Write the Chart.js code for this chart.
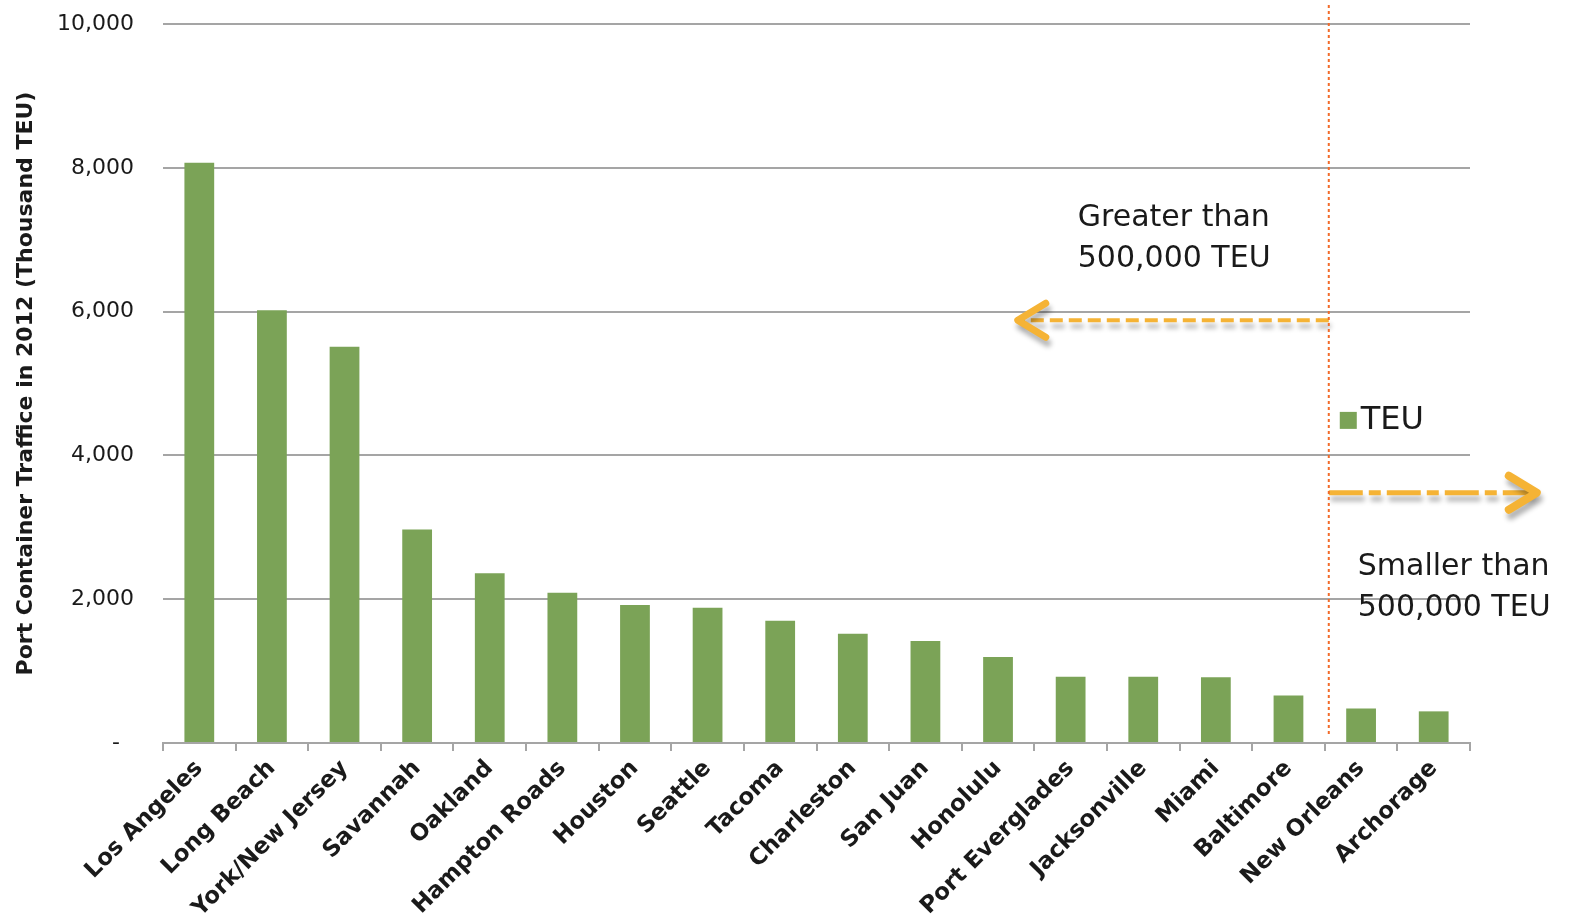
<!DOCTYPE html>
<html>
<head>
<meta charset="utf-8">
<script src="https://cdn.jsdelivr.net/npm/chart.js@4.4.1/dist/chart.umd.min.js"></script>
<style>
  html, body { margin: 0; padding: 0; background: #fff; }
</style>
</head>
<body>
<canvas id="portChart" width="1575" height="914"></canvas>
<script>
// US port container traffic, 2012 (thousand TEU)
const ports = ['Los Angeles', 'Long Beach', 'New York/New Jersey', 'Savannah', 'Oakland',
    'Hampton Roads', 'Houston', 'Seattle', 'Tacoma', 'Charleston', 'San Juan', 'Honolulu',
    'Port Everglades', 'Jacksonville', 'Miami', 'Baltimore', 'New Orleans', 'Archorage'];
const teuValues = [8070, 6020, 5510, 2970, 2360, 2090, 1920, 1880, 1700, 1520, 1420, 1195,
    920, 920, 915, 660, 480, 440];
const yTicks = [0, 2000, 4000, 6000, 8000, 10000];
const seriesLabel = 'TEU';
const lastLargePort = 'Baltimore';
const greaterText = ['Greater than', '500,000 TEU'];
const smallerText = ['Smaller than', '500,000 TEU'];

const FONT = "'DejaVu Sans', sans-serif";
const BAR_GREEN = 'rgb(123, 163, 87)';
const GRID_GREY = 'rgb(165, 165, 165)';
const ARROW_GOLD = '#f5b335';

function drawArrow(ctx, x0, x1, y, dash, width) {
    const dir = Math.sign(x1 - x0);
    ctx.save();
    ctx.strokeStyle = ARROW_GOLD;
    ctx.shadowColor = 'rgba(0, 0, 0, 0.3)';
    ctx.shadowBlur = 5;
    ctx.shadowOffsetX = 2;
    ctx.shadowOffsetY = 6;
    ctx.lineWidth = width;
    ctx.setLineDash(dash);
    ctx.beginPath();
    ctx.moveTo(x0, y);
    ctx.lineTo(x1 - dir * 4, y);
    ctx.stroke();
    ctx.setLineDash([]);
    ctx.lineWidth = width + 3;
    ctx.lineCap = 'round';
    ctx.lineJoin = 'round';
    ctx.beginPath();
    ctx.moveTo(x1 - dir * 28, y - 17);
    ctx.lineTo(x1, y);
    ctx.lineTo(x1 - dir * 28, y + 17);
    ctx.stroke();
    ctx.restore();
}

const splitPlugin = {
    id: 'splitPlugin',
    afterDraw(chart) {
        const ctx = chart.ctx;
        const x = chart.scales.x;
        const y = chart.scales.y;
        const idx = ports.indexOf(lastLargePort);
        const lineX = (x.getPixelForValue(idx) + x.getPixelForValue(idx + 1)) / 2 + 4;

        // arrows
        drawArrow(ctx, lineX, lineX - 311, y.getPixelForValue(5880), [13, 6], 4);
        drawArrow(ctx, lineX, lineX + 208, y.getPixelForValue(3480), [34, 6, 12, 6], 5);

        // divider
        ctx.save();
        ctx.strokeStyle = '#f26b2a';
        ctx.lineWidth = 2;
        ctx.setLineDash([3, 3]);
        ctx.beginPath();
        ctx.moveTo(lineX, 5);
        ctx.lineTo(lineX, chart.chartArea.bottom - 6);
        ctx.stroke();
        ctx.restore();

        // notes
        ctx.save();
        ctx.fillStyle = '#1a1a1a';
        ctx.font = '30px ' + FONT;
        ctx.textAlign = 'left';
        ctx.textBaseline = 'middle';
        ctx.fillText(greaterText[0], lineX - 251, y.getPixelForValue(7300));
        ctx.fillText(greaterText[1], lineX - 251, y.getPixelForValue(6730));
        ctx.fillText(smallerText[0], lineX + 29, y.getPixelForValue(2440));
        ctx.fillText(smallerText[1], lineX + 29, y.getPixelForValue(1880));

        // legend
        const ly = y.getPixelForValue(4480);
        ctx.fillStyle = chart.data.datasets[0].backgroundColor;
        ctx.fillRect(lineX + 11, ly - 9, 17, 17);
        ctx.fillStyle = '#1a1a1a';
        ctx.font = '32px ' + FONT;
        ctx.fillText(chart.data.datasets[0].label, lineX + 32, ly);
        ctx.restore();
    }
};

const ctx = document.getElementById('portChart').getContext('2d');
new Chart(ctx, {
    type: 'bar',
    data: {
        labels: ports,
        datasets: [{
            label: seriesLabel,
            data: teuValues,
            backgroundColor: BAR_GREEN,
            borderWidth: 0,
            categoryPercentage: 1,
            barPercentage: 0.41
        }]
    },
    options: {
        responsive: false,
        animation: false,
        layout: {
            padding: { top: 24, right: 105, left: 0, bottom: 0 }
        },
        plugins: {
            legend: { display: false },
            tooltip: { enabled: false }
        },
        scales: {
            x: {
                grid: {
                    drawOnChartArea: false,
                    drawTicks: true,
                    tickLength: 8,
                    color: GRID_GREY,
                    lineWidth: 2
                },
                border: { display: true, color: GRID_GREY, width: 2 },
                ticks: {
                    autoSkip: false,
                    minRotation: 45,
                    maxRotation: 45,
                    padding: 4,
                    color: '#1a1a1a',
                    font: { family: FONT, size: 23, weight: 'bold' }
                },
                afterFit: function(scale) {
                    scale.height = 171;
                    scale.paddingLeft = 0;
                    scale.paddingRight = 0;
                }
            },
            y: {
                min: 0,
                max: 10000,
                afterBuildTicks: function(scale) {
                    scale.ticks = yTicks.map(v => ({ value: v }));
                },
                afterFit: function(scale) {
                    scale.width = 163;
                    scale.paddingTop = 0;
                    scale.paddingBottom = 0;
                },
                grid: {
                    drawTicks: false,
                    color: GRID_GREY,
                    lineWidth: 2
                },
                border: { display: false },
                ticks: {
                    padding: 29,
                    color: '#1a1a1a',
                    font: { family: FONT, size: 22 },
                    callback: function(value) {
                        return value === 0 ? '-  ' : value.toLocaleString('en-US');
                    }
                },
                title: {
                    display: true,
                    text: 'Port Container Traffice in 2012 (Thousand TEU)',
                    color: '#1a1a1a',
                    font: { family: FONT, size: 22, weight: 'bold' },
                    padding: { top: 13, bottom: 20 }
                }
            }
        }
    },
    plugins: [splitPlugin]
});
</script>
</body>
</html>
